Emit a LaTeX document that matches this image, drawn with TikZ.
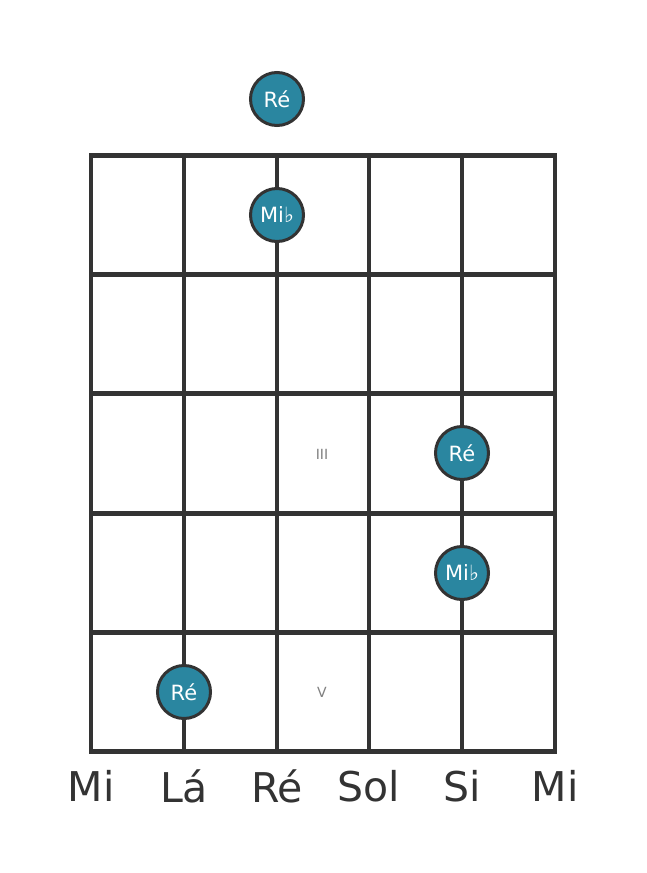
\documentclass[tikz,border=0pt]{standalone}
\usepackage{fontspec}
\setmainfont{DejaVu Sans}
\definecolor{fretline}{HTML}{333333}
\definecolor{dotfill}{HTML}{2A86A0}
\definecolor{markgray}{HTML}{808080}
\tikzset{
  notedot/.style={circle,draw=fretline,line width=3pt,fill=dotfill,minimum size=53pt,inner sep=0pt,
    text=white,font=\fontsize{21}{21}\selectfont},
  fretmark/.style={text=markgray,font=\fontsize{14}{14}\selectfont},
  stringname/.style={text=fretline,font=\fontsize{41}{41}\selectfont}
}
\begin{document}
\begin{tikzpicture}[x=1pt,y=-1pt]
		\useasboundingbox (0,0) rectangle (647,873);
		\fill[white] (0,0) rectangle (647,873);
		% strings
		\foreach \sx in {91,184,277,369,462,555}
		  \draw[fretline,line width=3.5pt] (\sx,155) -- (\sx,751);
		% frets
		\foreach \fy in {155,274,393,513,632,751}
		  \draw[fretline,line width=5pt] (89,\fy) -- (557,\fy);
		\node[fretmark] (mkiii) at (322,454) {III};
		\node[fretmark] (mkv) at (322,692) {V};
		\node[notedot] (reopen) at (277,99) {Ré};
		\node[notedot] (mib1) at (277,215) {Mi♭};
		\node[notedot] (re3) at (462,453) {Ré};
		\node[notedot] (mib4) at (462,573) {Mi♭};
		\node[notedot] (re5) at (184,692) {Ré};
		\node[stringname] (s6) at (91,786) {Mi};
		\node[stringname] (s5) at (184,786) {Lá};
		\node[stringname] (s4) at (277,786) {Ré};
		\node[stringname] (s3) at (369,786) {Sol};
		\node[stringname] (s2) at (462,786) {Si};
		\node[stringname] (s1) at (555,786) {Mi};
  \end{tikzpicture}
\end{document}
